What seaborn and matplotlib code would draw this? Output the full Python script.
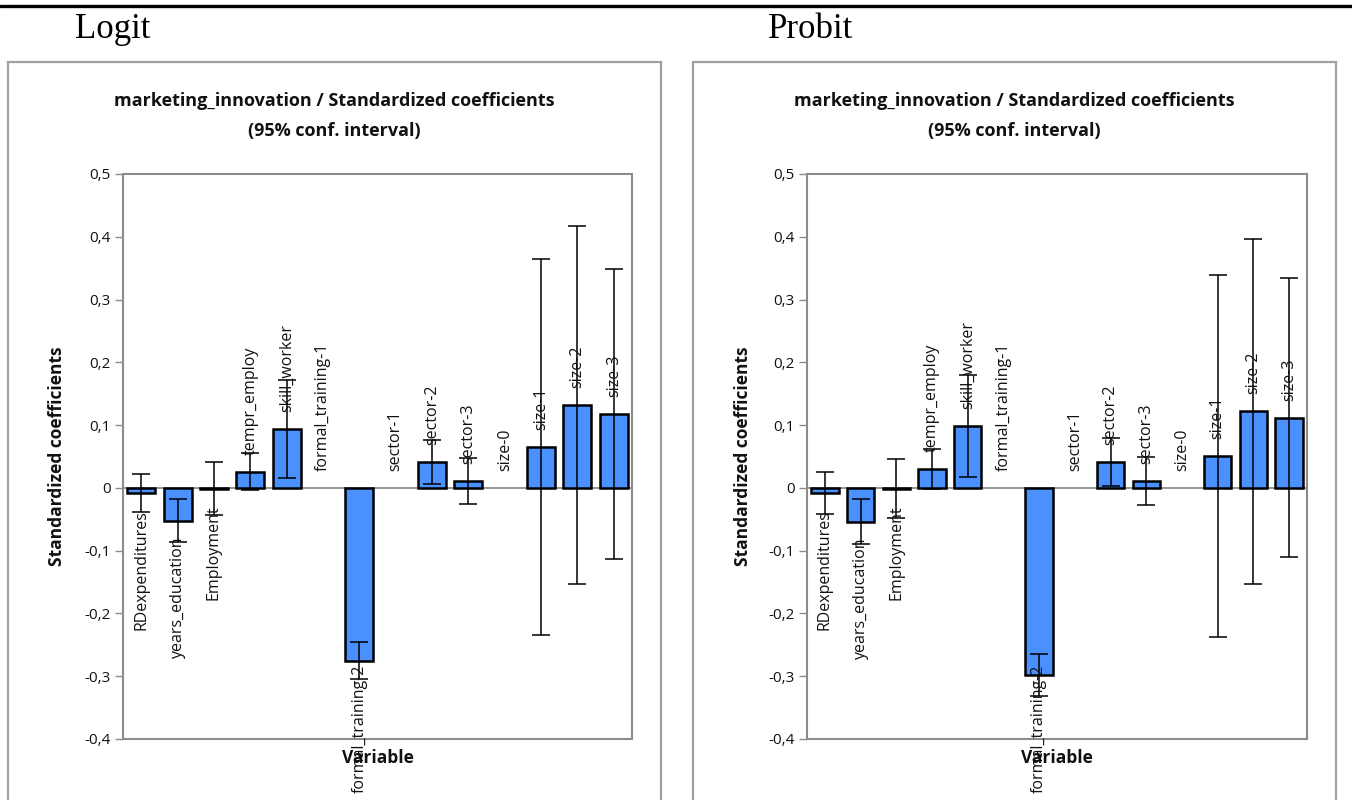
import numpy as np
import pandas as pd
import matplotlib
matplotlib.use("Agg")
import matplotlib.pyplot as plt
from matplotlib.patches import Rectangle
from matplotlib.lines import Line2D
from matplotlib.ticker import FixedLocator, FuncFormatter
import seaborn as sns

# ---- data -------------------------------------------------------------
variables = ["RDexpenditures", "years_education", "Employment", "tempr_employ",
             "skill_worker", "formal_training-1", "formal_training-2", "sector-1",
             "sector-2", "sector-3", "size-0", "size-1", "size-2", "size-3"]

logit_coef = [-0.008, -0.052, -0.001, 0.026, 0.094, 0.0, -0.275, 0.0,
              0.041, 0.011, 0.0, 0.065, 0.132, 0.118]
logit_lower = [-0.038, -0.086, -0.043, -0.003, 0.016, np.nan, -0.305, np.nan,
               0.006, -0.026, np.nan, -0.235, -0.153, -0.113]
logit_upper = [0.022, -0.018, 0.041, 0.055, 0.172, np.nan, -0.245, np.nan,
               0.076, 0.048, np.nan, 0.365, 0.417, 0.349]

probit_coef = [-0.008, -0.054, -0.001, 0.030, 0.099, 0.0, -0.298, 0.0,
               0.041, 0.011, 0.0, 0.051, 0.122, 0.112]
probit_lower = [-0.041, -0.090, -0.048, -0.002, 0.018, np.nan, -0.331, np.nan,
                0.003, -0.027, np.nan, -0.237, -0.153, -0.110]
probit_upper = [0.025, -0.018, 0.046, 0.062, 0.180, np.nan, -0.265, np.nan,
                0.079, 0.049, np.nan, 0.339, 0.397, 0.334]

y_ticks = [-0.4, -0.3, -0.2, -0.1, 0.0, 0.1, 0.2, 0.3, 0.4, 0.5]
chart_title = "marketing_innovation / Standardized coefficients\n(95% conf. interval)"
panel_names = ["Logit", "Probit"]

# ---- style ------------------------------------------------------------
sns.set_theme(style="white")
plt.rcParams["font.family"] = ["Open Sans", "DejaVu Sans"]

W, H = 1352, 800
fig = plt.figure(figsize=(W / 100, H / 100), dpi=100)
fig.patch.set_facecolor("white")

BAR_COLOR = "#4A90FF"
FRAME_GREY = "#a0a0a0"
AXIS_GREY = "#8c8c8c"
TEXT = "#111111"


def px_rect(x0, y_top, x1, y_bottom):
    """Figure-fraction rectangle from pixel edges (y measured from top)."""
    return [x0 / W, 1 - y_bottom / H, (x1 - x0) / W, (y_bottom - y_top) / H]


def fmt_tick(v, _pos):
    if abs(v) < 1e-9:
        return "0"
    return f"{v:.1f}".replace(".", ",")


def draw_panel(ax, coef, lower, upper):
    df = pd.DataFrame({"Variable": variables, "coef": coef})
    sns.barplot(data=df, x="Variable", y="coef", order=variables, ax=ax,
                color=BAR_COLOR, edgecolor="black", linewidth=1.8,
                width=0.77, errorbar=None, saturation=1, zorder=3)
    # zero-height reference categories have no visible bar
    for p in ax.patches:
        if abs(p.get_height()) < 1e-12:
            p.set_edgecolor("none")

    c = np.asarray(coef, dtype=float)
    lo = np.asarray(lower, dtype=float)
    hi = np.asarray(upper, dtype=float)
    xs = np.arange(len(variables))
    ax.errorbar(xs, c, yerr=[c - lo, hi - c], fmt="none", ecolor="black",
                elinewidth=1.1, capsize=6.5, capthick=1.1, zorder=4)

    ax.axhline(0, color=AXIS_GREY, lw=1.3, zorder=2)
    ax.set_ylim(-0.4, 0.5)
    ax.set_xlim(-0.5, len(variables) - 0.5)
    ax.yaxis.set_major_locator(FixedLocator(y_ticks))
    ax.yaxis.set_major_formatter(FuncFormatter(fmt_tick))
    ax.tick_params(axis="y", direction="out", length=6, width=1.0,
                   color=AXIS_GREY, labelsize=11, labelcolor=TEXT, pad=3,
                   left=True)
    ax.tick_params(axis="x", length=0, labelbottom=False)
    for s in ax.spines.values():
        s.set_color(AXIS_GREY)
        s.set_linewidth(1.5)

    ax.set_xlabel("Variable", fontsize=12.5, fontweight="bold", color=TEXT)
    ax.set_ylabel("Standardized coefficients", fontsize=12.5,
                  fontweight="bold", color=TEXT)

    # category names written next to each bar
    labels = []
    for x, v in zip(xs, c):
        if v < 0:
            t = ax.annotate(variables[x], xy=(x, v), xytext=(0, -17),
                            textcoords="offset pixels", rotation=90,
                            ha="center", va="top", fontsize=11.5,
                            color=TEXT, zorder=5)
        else:
            t = ax.annotate(variables[x], xy=(x, v), xytext=(0, 17),
                            textcoords="offset pixels", rotation=90,
                            ha="center", va="bottom", fontsize=11.5,
                            color=TEXT, zorder=5)
        labels.append(t)
    return labels


axes_px = [(123, 174, 632, 739), (807, 174, 1307, 739)]
frames_px = [(8, 62, 661, 830), (693, 62, 1336, 830)]
ylabel_x = [57, 743]

all_labels = []
for i, (coef, lo, hi) in enumerate([(logit_coef, logit_lower, logit_upper),
                                    (probit_coef, probit_lower, probit_upper)]):
    ax = fig.add_axes(px_rect(*axes_px[i]))
    ax.set_facecolor("white")
    all_labels.append(draw_panel(ax, coef, lo, hi))
    ax_w = axes_px[i][2] - axes_px[i][0]
    ax_h = axes_px[i][3] - axes_px[i][1]
    ax.xaxis.set_label_coords(0.5, -19 / ax_h)
    ax.xaxis.label.set_va("center")
    ax.yaxis.set_label_coords((ylabel_x[i] - axes_px[i][0]) / ax_w, 0.5)
    ax.yaxis.label.set_va("center")

    fx0, fy0, fx1, fy1 = frames_px[i]
    fig.patches.append(Rectangle((fx0 / W, 1 - fy1 / H), (fx1 - fx0) / W,
                                 (fy1 - fy0) / H, transform=fig.transFigure,
                                 fill=False, edgecolor=FRAME_GREY, lw=1.6,
                                 clip_on=False))
    fig.text((fx0 + fx1) / 2 / W, 1 - 116 / H, chart_title, ha="center",
             va="center", fontsize=13, fontweight="bold", color=TEXT,
             linespacing=1.8)
    fig.text((75 if i == 0 else 768) / W, 1 - 29 / H, panel_names[i],
             ha="left", va="center", fontsize=25, family="Liberation Serif",
             color="black")

# rule across the top of the page
fig.add_artist(Line2D([0, 1], [1 - 6 / H, 1 - 6 / H], transform=fig.transFigure,
                      color="black", lw=2.4))

# keep the category names inside the chart area
fig.canvas.draw()
renderer = fig.canvas.get_renderer()
for labels in all_labels:
    for t in labels:
        bb = t.get_window_extent(renderer)
        if bb.y0 < 7:
            ox, oy = t.xyann
            t.xyann = (ox, oy + (7 - bb.y0))

fig.savefig("out.png", dpi=100, facecolor="white")
